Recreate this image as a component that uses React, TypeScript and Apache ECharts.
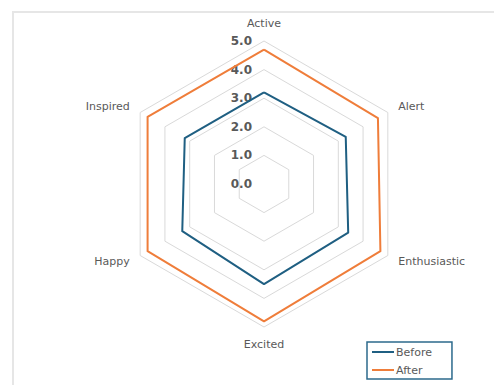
import React, { useEffect, useRef } from "react";
import * as echarts from "echarts";

// Radar axes, listed clockwise from the top
const indicators = ["Active", "Alert", "Enthusiastic", "Excited", "Happy", "Inspired"];
const seriesNames = ["Before", "After"];
const beforeValues = [3.2, 3.3, 3.4, 3.5, 3.3, 3.2];
const afterValues = [4.7, 4.6, 4.7, 4.8, 4.7, 4.7];
const scaleMax = 5;
const scaleSplits = 5;

// ECharts lays radar indicators out counter-clockwise, so walk the lists backwards after the first
const order = [0, ...indicators.map((_, i) => i).slice(1).reverse()];
const reorder = <T,>(arr: T[]) => order.map((i) => arr[i]);

const BLUE = "#1f5f82";
const ORANGE = "#ef7d3a";
const TEXT = "#595959";
const FONT = "'DejaVu Sans', 'Noto Sans', sans-serif";

export default function App() {
  const ref = useRef<HTMLDivElement>(null);

  useEffect(() => {
    if (!ref.current) return;
    const chart = echarts.init(ref.current, undefined, { renderer: "svg" });
    chart.setOption({
      animation: false,
      textStyle: { fontFamily: FONT },
      legend: {
        data: seriesNames,
        orient: "vertical",
        left: 367,
        top: 342,
        padding: [3, 20, 2, 5],
        itemGap: 4,
        itemWidth: 22,
        itemHeight: 2,
        icon: "rect",
        borderColor: "#2c6a8c",
        borderWidth: 1.5,
        textStyle: {
          color: TEXT,
          fontSize: 11,
          lineHeight: 14,
          fontFamily: FONT,
          padding: [0, 0, 0, -3],
        },
      },
      radar: {
        center: [264, 184],
        radius: 143,
        startAngle: 90,
        shape: "polygon",
        splitNumber: scaleSplits,
        nameGap: 12,
        axisName: { color: TEXT, fontSize: 11, fontFamily: FONT },
        axisLine: { show: false },
        axisTick: { show: false },
        axisLabel: { show: false },
        splitArea: { show: false },
        splitLine: { lineStyle: { color: "#d9d9d9", width: 1 } },
        indicator: reorder(indicators).map((name, i) => ({
          name,
          min: 0,
          max: scaleMax,
          axisLabel:
            i === 0
              ? {
                  show: true,
                  color: TEXT,
                  fontSize: 12,
                  fontWeight: "bold",
                  fontFamily: FONT,
                  margin: 12,
                  formatter: (v: number) => v.toFixed(1),
                }
              : { show: false },
        })),
      },
      series: [
        {
          type: "radar",
          symbol: "none",
          data: [
            {
              name: seriesNames[0],
              value: reorder(beforeValues),
              lineStyle: { color: BLUE, width: 2 },
              itemStyle: { color: BLUE },
            },
            {
              name: seriesNames[1],
              value: reorder(afterValues),
              lineStyle: { color: ORANGE, width: 2 },
              itemStyle: { color: ORANGE },
            },
          ],
        },
      ],
    });
    return () => chart.dispose();
  }, []);

  return (
    <div
      style={{
        position: "fixed",
        left: 0,
        top: 0,
        width: 494,
        height: 385,
        overflow: "hidden",
        background: "#fff",
      }}
    >
      <div
        style={{
          position: "absolute",
          left: 12,
          top: 11,
          width: 600,
          height: 600,
          border: "2px solid #e6e6e6",
        }}
      />
      <div ref={ref} style={{ position: "absolute", left: 0, top: 0, width: 494, height: 385 }} />
    </div>
  );
}
